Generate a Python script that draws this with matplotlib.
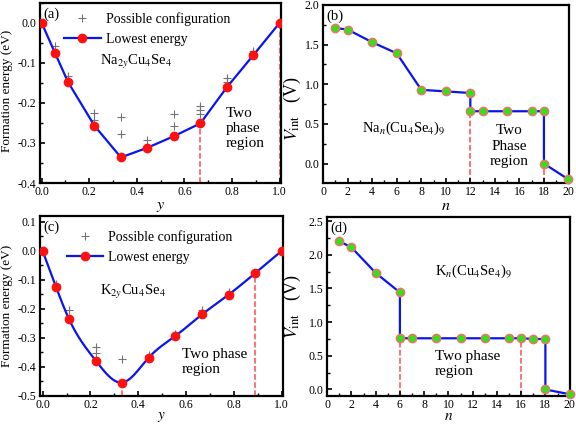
import numpy as np
import matplotlib
matplotlib.use("Agg")
import matplotlib.pyplot as plt
from matplotlib.ticker import MultipleLocator
from matplotlib.lines import Line2D

plt.rcParams['font.family'] = ['Liberation Serif', 'DejaVu Serif']
plt.rcParams['mathtext.fontset'] = 'stix'

# ---------------- data ----------------
# (a) Na_{2y}Cu4Se4
y_na = [0.0, 0.056, 0.111, 0.222, 0.333, 0.444, 0.556, 0.667, 0.778, 0.889, 1.0]
e_na = [0.0, -0.075, -0.148, -0.257, -0.336, -0.312, -0.283, -0.251, -0.161, -0.081, 0.0]
cfg_na_x = [0.056, 0.111, 0.222, 0.222, 0.333, 0.333, 0.444, 0.556, 0.556, 0.667, 0.667, 0.667, 0.778, 0.778, 0.889]
cfg_na_e = [-0.058, -0.132, -0.224, -0.243, -0.236, -0.277, -0.292, -0.228, -0.258, -0.207, -0.218, -0.228, -0.138, -0.148, -0.071]
na_dash_x = [0.667, 1.0]
na_dash_top = [-0.251, 0.0]

# (b) Na_n(Cu4Se4)9
n_na = [1, 2, 4, 6, 8, 10, 12, 12, 13, 15, 17, 18, 18, 20]
v_na = [1.71, 1.69, 1.53, 1.39, 0.93, 0.91, 0.89, 0.66, 0.66, 0.66, 0.66, 0.66, 0.0, -0.2]
nb_dash_x = [12, 18]
nb_dash_top = [0.66, 0.0]

# (c) K_{2y}Cu4Se4
y_k = [0.0, 0.056, 0.111, 0.222, 0.333, 0.444, 0.556, 0.667, 0.778, 0.889, 1.0]
e_k = [0.0, -0.124, -0.236, -0.378, -0.454, -0.368, -0.293, -0.219, -0.151, -0.077, 0.0]
cfg_k_x = [0.056, 0.111, 0.222, 0.222, 0.333, 0.444, 0.556, 0.667, 0.778]
cfg_k_e = [-0.113, -0.203, -0.333, -0.352, -0.373, -0.358, -0.285, -0.203, -0.143]
k_dash_x = [0.333, 0.889]
k_dash_top = [-0.454, -0.077]

# (d) K_n(Cu4Se4)9
n_k = [1, 2, 4, 6, 6, 7, 9, 11, 13, 15, 16, 17, 18, 18, 20]
v_k = [2.20, 2.11, 1.73, 1.44, 0.76, 0.76, 0.76, 0.76, 0.76, 0.76, 0.76, 0.75, 0.75, 0.0, -0.07]
nd_dash_x = [6, 16]
nd_dash_top = [0.76, 0.76]


def natural_spline(x, y, num=400):
    x = np.asarray(x, float); y = np.asarray(y, float)
    n = len(x)
    h = np.diff(x)
    A = np.zeros((n, n)); b = np.zeros(n)
    A[0, 0] = 1; A[-1, -1] = 1
    for i in range(1, n - 1):
        A[i, i - 1] = h[i - 1]
        A[i, i] = 2 * (h[i - 1] + h[i])
        A[i, i + 1] = h[i]
        b[i] = 6 * ((y[i + 1] - y[i]) / h[i] - (y[i] - y[i - 1]) / h[i - 1])
    M = np.linalg.solve(A, b)
    xs = np.linspace(x[0], x[-1], num)
    idx = np.clip(np.searchsorted(x, xs) - 1, 0, n - 2)
    x0 = x[idx]; x1 = x[idx + 1]; hh = x1 - x0
    t0 = x1 - xs; t1 = xs - x0
    ys = (M[idx] * t0**3 + M[idx + 1] * t1**3) / (6 * hh) \
        + (y[idx] / hh - M[idx] * hh / 6) * t0 + (y[idx + 1] / hh - M[idx + 1] * hh / 6) * t1
    return xs, ys


fig = plt.figure(figsize=(5.76, 4.28), dpi=100)
axa = fig.add_axes([0.0694, 0.5724, 0.419, 0.421])
axb = fig.add_axes([0.561, 0.5724, 0.427, 0.416])
axc = fig.add_axes([0.0694, 0.075, 0.422, 0.420])
axd = fig.add_axes([0.568, 0.075, 0.422, 0.418])

BLUE = '#0a14f0'
RED = '#ff1010'
DASH = '#ff4a4a'
GREEN = '#33e01a'
EDGE = '#ff6a6a'
fmt1 = plt.FuncFormatter(lambda v, p: f'{v:.1f}')


def style(ax):
    for s in ax.spines.values():
        s.set_linewidth(1.6)
    ax.tick_params(which='both', direction='in', top=False, right=False, labelsize=8.5)
    ax.tick_params(which='major', length=3.5, width=1.2, pad=2.5)
    ax.tick_params(which='minor', length=2, width=1.0)


def legend(ax, bx, by):
    h1 = Line2D([], [], ls='none', marker='+', color='0.45', ms=6, mew=0.8)
    h2 = Line2D([], [], color=BLUE, lw=1.6, marker='o', mfc=RED, mec=RED, ms=6)
    ax.legend([h1, h2], ['Possible configuration', 'Lowest energy'], loc='upper left',
              bbox_to_anchor=(bx, by), frameon=False, fontsize=10,
              handlelength=2.6, handletextpad=0.4, labelspacing=0.5, borderpad=0.2)


# (a)
ax = axa
ax.plot(cfg_na_x, cfg_na_e, ls='none', marker='+', color='0.45', ms=6, mew=0.8, zorder=2)
for xd, yt in zip(na_dash_x, na_dash_top):
    ax.plot([xd, xd], [-0.4, yt], ls='--', color=DASH, lw=1.1, zorder=1)
ax.plot(y_na, e_na, color=BLUE, lw=1.6, marker='o', mfc=RED, mec=RED, ms=6, zorder=3)
ax.set_xlim(-0.007, 1.007)
ax.set_ylim(-0.4, 0.05)
ax.xaxis.set_major_locator(MultipleLocator(0.2))
ax.xaxis.set_minor_locator(MultipleLocator(0.1))
ax.yaxis.set_major_locator(MultipleLocator(0.1))
ax.yaxis.set_minor_locator(MultipleLocator(0.05))
ax.yaxis.set_major_formatter(fmt1)
ax.xaxis.set_major_formatter(fmt1)
style(ax)
ax.set_ylabel('Formation energy (eV)', fontsize=9.5)
ax.yaxis.set_label_coords(-0.11, 0.51)
ax.set_xlabel('$y$', fontsize=11.5, labelpad=0)
ax.text(0.015, 0.975, '(a)', transform=ax.transAxes, fontsize=10.5, va='top', ha='left')
legend(ax, 0.061, 1.003)
ax.text(0.244, -0.097, r'Na$_{2y}$Cu$_4$Se$_4$', fontsize=10.5, va='center', ha='left')
ax.text(0.775, -0.265, 'Two\nphase\nregion', fontsize=11, va='center', ha='left', linespacing=1.2)

# (b)
ax = axb
for xd, yt in zip(nb_dash_x, nb_dash_top):
    ax.plot([xd, xd], [-0.25, yt], ls='--', color=DASH, lw=1.1, zorder=1)
ax.plot(n_na, v_na, color=BLUE, lw=1.6, marker='o', mfc=GREEN, mec=EDGE, mew=1.0, ms=6, zorder=3, clip_on=False)
ax.set_xlim(0, 20.05)
ax.set_ylim(-0.245, 2.0)
ax.xaxis.set_major_locator(MultipleLocator(2))
ax.xaxis.set_minor_locator(MultipleLocator(1))
ax.yaxis.set_major_locator(MultipleLocator(0.5))
ax.yaxis.set_minor_locator(MultipleLocator(0.25))
ax.yaxis.set_major_formatter(fmt1)
style(ax)
ax.set_ylabel(r'$V_{\rm int}$   (V)', fontsize=13)
ax.yaxis.set_label_coords(-0.082, 0.42)
ax.set_xlabel('$n$', fontsize=11.5, labelpad=0)
ax.text(0.015, 0.975, '(b)', transform=ax.transAxes, fontsize=10.5, va='top', ha='left')
ax.text(3.2, 0.445, r'Na$_n$(Cu$_4$Se$_4$)$_9$', fontsize=10.5, va='center', ha='left')
ax.text(15.2, 0.22, 'Two\nPhase\nregion', fontsize=11, va='center', ha='center', linespacing=1.25)

# (c)
ax = axc
ax.plot(cfg_k_x, cfg_k_e, ls='none', marker='+', color='0.45', ms=6, mew=0.8, zorder=2)
for xd, yt in zip(k_dash_x, k_dash_top):
    ax.plot([xd, xd], [-0.5, yt], ls='--', color=DASH, lw=1.1, zorder=1)
xs, ys = natural_spline(y_k, e_k)
ax.plot(xs, ys, color=BLUE, lw=1.6, zorder=3)
ax.plot(y_k, e_k, ls='none', marker='o', mfc=RED, mec=RED, ms=6, zorder=4)
ax.set_xlim(-0.011, 1.006)
ax.set_ylim(-0.5, 0.12)
ax.xaxis.set_major_locator(MultipleLocator(0.2))
ax.xaxis.set_minor_locator(MultipleLocator(0.1))
ax.yaxis.set_major_locator(MultipleLocator(0.1))
ax.yaxis.set_minor_locator(MultipleLocator(0.05))
ax.yaxis.set_major_formatter(fmt1)
ax.xaxis.set_major_formatter(fmt1)
style(ax)
ax.set_ylabel('Formation energy (eV)', fontsize=9.5)
ax.yaxis.set_label_coords(-0.11, 0.5)
ax.set_xlabel('$y$', fontsize=11, labelpad=-1)
ax.text(0.015, 0.975, '(c)', transform=ax.transAxes, fontsize=10.5, va='top', ha='left')
legend(ax, 0.07, 0.975)
ax.text(0.24, -0.143, r'K$_{2y}$Cu$_4$Se$_4$', fontsize=10.5, va='center', ha='left')
ax.text(0.582, -0.384, 'Two phase\nregion', fontsize=11, va='center', ha='left', linespacing=1.2)

# (d)
ax = axd
for xd, yt in zip(nd_dash_x, nd_dash_top):
    ax.plot([xd, xd], [-0.095, yt], ls='--', color=DASH, lw=1.1, zorder=1)
ax.plot(n_k, v_k, color=BLUE, lw=1.6, marker='o', mfc=GREEN, mec=EDGE, mew=1.0, ms=6, zorder=3, clip_on=False)
ax.set_xlim(0, 20.05)
ax.set_ylim(-0.095, 2.56)
ax.xaxis.set_major_locator(MultipleLocator(2))
ax.xaxis.set_minor_locator(MultipleLocator(1))
ax.yaxis.set_major_locator(MultipleLocator(0.5))
ax.yaxis.set_minor_locator(MultipleLocator(0.25))
ax.yaxis.set_major_formatter(fmt1)
style(ax)
ax.set_ylabel(r'$V_{\rm int}$   (V)', fontsize=13)
ax.yaxis.set_label_coords(-0.098, 0.5)
ax.set_xlabel('$n$', fontsize=11, labelpad=-1)
ax.text(0.015, 0.975, '(d)', transform=ax.transAxes, fontsize=10.5, va='top', ha='left')
ax.text(8.87, 1.76, r'K$_n$(Cu$_4$Se$_4$)$_9$', fontsize=10.5, va='center', ha='left')
ax.text(8.87, 0.38, 'Two phase\nregion', fontsize=11, va='center', ha='left', linespacing=1.2)

fig.savefig('out.png', dpi=100)
